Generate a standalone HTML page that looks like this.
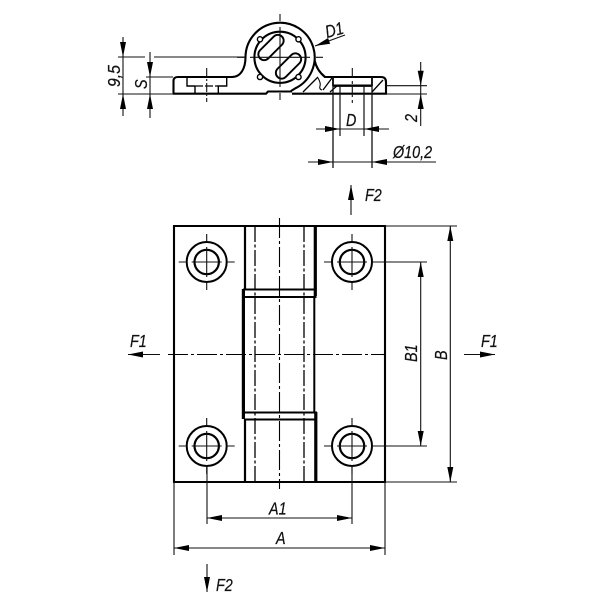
<!DOCTYPE html>
<html><head><meta charset="utf-8"><style>
html,body{margin:0;padding:0;background:#fff}
svg{display:block;filter:blur(0.3px)}
text{font-family:"Liberation Sans",sans-serif;font-style:italic;font-size:17.5px;fill:#111;stroke:#111;stroke-width:.25px}
</style></head><body>
<svg width="600" height="600" viewBox="0 0 600 600" xmlns="http://www.w3.org/2000/svg">
<defs>
<g id="ah"><path d="M0 0L-15 -3L-15 3Z" fill="#000"/></g>
<g id="hole">
<circle r="20" fill="none" stroke="#000" stroke-width="2"/>
<circle r="12.2" fill="none" stroke="#000" stroke-width="2.2"/>
<path d="M-28 0H-21M-15 0H15M21 0H28M0 -28V-21M0 -15V15M0 21V28" stroke="#111" stroke-width="1.1" fill="none"/>
</g>
</defs>

<!-- Plan view -->
<g fill="none" stroke="#000">
<path d="M174 226H385V482H174Z" stroke-width="2.1"/>
<path d="M245 226V289M245 419V482" stroke-width="2.2"/>
<path d="M315.3 226V296M315.8 412V482" stroke-width="3.2"/>
<path d="M243.4 289V419" stroke-width="3.2"/>
<path d="M314.3 297V412" stroke-width="2"/>
<path d="M243 289.5H316.5M245 297H316.5M243 412.5H317M245 419.5H315" stroke-width="2"/>
<path d="M255 226V482M304 226V482" stroke-width="1.3" stroke-dasharray="16 2.5 3 2.5"/>
<path d="M279.5 218V489" stroke-width="1.1" stroke-dasharray="20 3 3 3"/>
<path d="M168 354.5H385" stroke-width="1.1" stroke-dasharray="20 3 3 3"/>
</g>
<use href="#hole" x="206.7" y="262"/>
<use href="#hole" x="352" y="262"/>
<use href="#hole" x="206.7" y="446"/>
<use href="#hole" x="352" y="446"/>

<!-- Plan dimensions -->
<g fill="none" stroke="#111" stroke-width="1.1">
<path d="M207 466V524M352 466V524M174 482V555M385 482V555"/>
<path d="M207 518H352M174 548H385"/>
<path d="M385 226H457M385 482H457M372 262H427M372 446H427"/>
<path d="M420.7 262V446M450.3 226V482"/>
<path d="M128 354.5H160M464 354.5H495"/>
<path d="M351 185V215M207 564V592"/>
</g>
<use href="#ah" transform="translate(207 518) rotate(180)"/>
<use href="#ah" transform="translate(352 518)"/>
<use href="#ah" transform="translate(174 548) rotate(180)"/>
<use href="#ah" transform="translate(385 548)"/>
<use href="#ah" transform="translate(420.7 262) rotate(-90)"/>
<use href="#ah" transform="translate(420.7 446) rotate(90)"/>
<use href="#ah" transform="translate(450.3 226) rotate(-90)"/>
<use href="#ah" transform="translate(450.3 482) rotate(90)"/>
<use href="#ah" transform="translate(128 354.5) rotate(180)"/>
<use href="#ah" transform="translate(495 354.5)"/>
<use href="#ah" transform="translate(351 185) rotate(-90)"/>
<use href="#ah" transform="translate(207 592) rotate(90)"/>

<text transform="translate(269 514.5) scale(.82 1)">A1</text>
<text transform="translate(276 544) scale(.82 1)">A</text>
<text transform="translate(130 347) scale(.82 1)">F1</text>
<text transform="translate(481 347) scale(.82 1)">F1</text>
<text transform="translate(365 201) scale(.82 1)">F2</text>
<text transform="translate(216 591) scale(.82 1)">F2</text>
<text transform="translate(417 362) rotate(-90) scale(.82 1)">B1</text>
<text transform="translate(447 360) rotate(-90) scale(.82 1)">B</text>

<!-- Side view -->
<g fill="none" stroke="#000">
<path d="M173.5 94V81Q173.5 77 178 77H232C241 77 245.5 68 245.5 57A34.6 34.6 0 1 1 295 88.5L291 91" stroke-width="2.1"/>
<path d="M314.5 60C316 67 320 73 325 77H381Q386 77 386 82V93.7H292M173 93.7H266L268 91.5H292" stroke-width="2.1"/>
<circle cx="280" cy="57.3" r="25.6" stroke-width="2.1"/>
<circle cx="260" cy="39.3" r="2.6" stroke-width="1.4" fill="#fff"/>
<circle cx="298.5" cy="39.3" r="2.6" stroke-width="1.4" fill="#fff"/>
<circle cx="260" cy="77" r="2.6" stroke-width="1.4" fill="#fff"/>
<circle cx="298.5" cy="77" r="2.6" stroke-width="1.4" fill="#fff"/>
<rect x="-15.5" y="-5.8" width="31" height="11.6" rx="5.8" transform="translate(271 47.5) rotate(-45)" stroke-width="1.9" fill="#fff"/>
<rect x="-15.5" y="-5.8" width="31" height="11.6" rx="5.8" transform="translate(288.5 66) rotate(-45)" stroke-width="1.9" fill="#fff"/>
<path d="M333 77V86M372 77V86" stroke-width="1.8"/>
<path d="M333 85.7H372" stroke-width="2.4"/>
<path d="M187 77V86H195M195 86V94M218.3 94V86H226.7V77" stroke-width="1.4"/>
<path d="M195 86H218" stroke-width="1.2" stroke-dasharray="8 2"/>
<!-- hatching -->
<path d="M303 92L318 77M323 90L332 78M330 92L338 85M372 92L383 80" stroke-width="1.3"/>
<path d="M318 78Q321 83 320 86T322 90" stroke-width="1.1"/>
</g>
<g fill="none" stroke="#111" stroke-width="1.1">
<path d="M280 14V21M280 27V87M280 93V100M237 57.3H245M250 57.3H310M316 57.3H323"/>
<path d="M206.7 68V102" stroke-dasharray="9 2 2 2"/>
<path d="M352.3 68V103" stroke-dasharray="10 3 3 3"/>
<path d="M118 57H145M154 57H245M118 94H173M146 77H173M146 94H173"/>
<path d="M123 37V116M150 52V118"/>
<path d="M333 77V168M372 77V168" stroke-width="1.3"/>
<path d="M340 86V136M364 86V136" stroke-width="1.2"/>
<path d="M316 129H389M308 162H436"/>
<path d="M386 85.7H427M386 94H427"/>
<path d="M420.7 62V126"/>
<path d="M315 46L345 35"/>
</g>
<use href="#ah" transform="translate(123 57) rotate(90)"/>
<use href="#ah" transform="translate(123 94) rotate(-90)"/>
<use href="#ah" transform="translate(150 77) rotate(90)"/>
<use href="#ah" transform="translate(150 94) rotate(-90)"/>
<use href="#ah" transform="translate(340 129)"/>
<use href="#ah" transform="translate(364 129) rotate(180)"/>
<use href="#ah" transform="translate(333 162)"/>
<use href="#ah" transform="translate(372 162) rotate(180)"/>
<use href="#ah" transform="translate(420.7 85.7) rotate(90)"/>
<use href="#ah" transform="translate(420.7 94) rotate(-90)"/>
<use href="#ah" transform="translate(315 46) rotate(160)"/>

<text transform="translate(327 38) rotate(-15) scale(.82 1)">D1</text>
<text transform="translate(346 126) scale(.82 1)">D</text>
<text transform="translate(393 158) scale(.82 1)">Ø10,2</text>
<text transform="translate(120 87) rotate(-90) scale(.9 1)">9,5</text>
<text transform="translate(147 89) rotate(-90) scale(.82 1)">S</text>
<text transform="translate(417 122) rotate(-90) scale(.82 1)">2</text>
</svg>
</body></html>
